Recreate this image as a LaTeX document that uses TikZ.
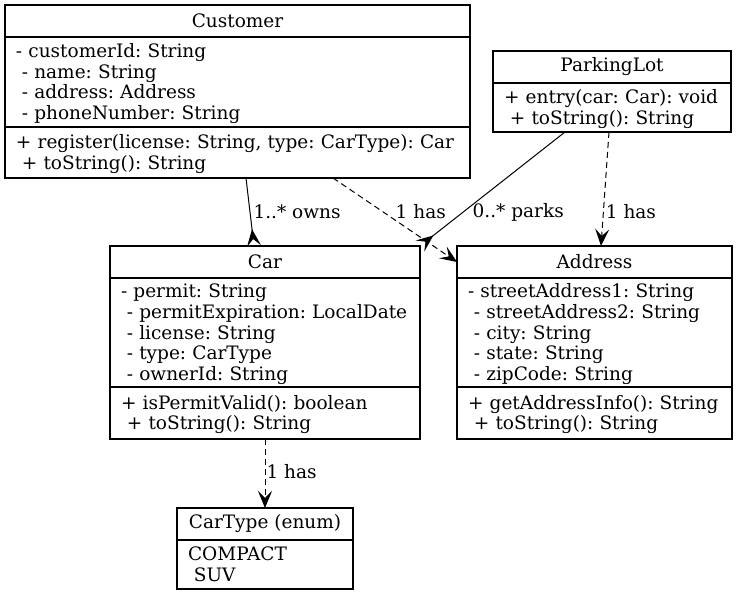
\documentclass[tikz,border=0pt]{standalone}
\usepackage{fontspec}
\setmainfont{DejaVu Serif}
\usetikzlibrary{arrows.meta,positioning}
\newcommand{\lsp}{\hspace*{0.318em}}
\newcommand{\fieldrows}[1]{\raisebox{-2.5pt}[\height][\depth]{\begin{tabular}{@{}l@{}}#1\end{tabular}}}

\begin{document}
\begin{tikzpicture}[x=1pt,y=-1pt,
    font=\fontsize{18.5}{20.7}\selectfont\frenchspacing,
    titlebox/.style={draw, line width=1.2pt, outer sep=0pt, inner sep=0pt, minimum height=32pt, minimum width=#1},
    partbox/.style={draw, line width=1.2pt, outer sep=0pt, inner xsep=11pt, inner ysep=0pt, align=left, text width=#1},
    lbl/.style={anchor=west, inner sep=0pt},
    crowline/.style={line width=1pt, -{Stealth[reversed, length=17pt, width=14pt, inset=7pt]}},
    hasline/.style={line width=1pt, dash pattern=on 6pt off 4pt, -{Stealth[length=17pt, width=14pt, inset=7pt]}}]
    \useasboundingbox (0,0) rectangle (737,596);
    %%Customer
    \node[titlebox=465pt] (custT) at (237.5,21) {Customer};
    \node[partbox=443pt, minimum height=90pt, below=0pt of custT] (custA)
        {\fieldrows{- customerId: String\\ \lsp- name: String\\ \lsp- address: Address\\ \lsp- phoneNumber: String}};
    \node[partbox=443pt, minimum height=51pt, below=0pt of custA] (custM)
        {\fieldrows{+ register(license: String, type: CarType): Car\\ \lsp+ toString(): String}};
    %%ParkingLot
    \node[titlebox=238pt] (parkT) at (612,67) {ParkingLot};
    \node[partbox=216pt, minimum height=49pt, below=0pt of parkT] (parkM)
        {\fieldrows{+ entry(car: Car): void\\ \lsp+ toString(): String}};
    %%Car
    \node[titlebox=310pt] (carT) at (265,262) {Car};
    \node[partbox=288pt, minimum height=109pt, below=0pt of carT] (carA)
        {\fieldrows{- permit: String\\ \lsp- permitExpiration: LocalDate\\ \lsp- license: String\\ \lsp- type: CarType\\ \lsp- ownerId: String}};
    \node[partbox=288pt, minimum height=52pt, below=0pt of carA] (carM)
        {\fieldrows{+ isPermitValid(): boolean\\ \lsp+ toString(): String}};
    %%Address
    \node[titlebox=275pt] (addrT) at (594.5,262) {Address};
    \node[partbox=253pt, minimum height=109pt, below=0pt of addrT] (addrA)
        {\fieldrows{- streetAddress1: String\\ \lsp- streetAddress2: String\\ \lsp- city: String\\ \lsp- state: String\\ \lsp- zipCode: String}};
    \node[partbox=253pt, minimum height=52pt, below=0pt of addrA] (addrM)
        {\fieldrows{+ getAddressInfo(): String\\ \lsp+ toString(): String}};
    %%CarType
    \node[titlebox=176pt] (typeT) at (265,524) {CarType (enum)};
    \node[partbox=154pt, minimum height=49pt, below=0pt of typeT] (typeV)
        {\fieldrows{COMPACT\\ \lsp SUV}};
    %%Relations
    \draw[crowline] ([xshift=241pt]custM.south west) -- node[lbl, pos=0.5, xshift=3pt]{1..* owns} ([xshift=144pt]carT.north west);
    \draw[hasline] ([xshift=328pt]custM.south west) -- node[lbl, pos=0.405, xshift=12pt]{1 has} (addrT.west);
    \draw[crowline] ([xshift=72pt]parkM.south west) -- node[lbl, pos=0.702, xshift=9pt]{0..* parks} (carT.north east);
    \draw[hasline] ([xshift=116pt]parkM.south west) -- node[lbl, pos=0.70, xshift=2pt]{1 has} ([xshift=144pt]addrT.north west);
    \draw[hasline] (carM.south) -- node[lbl, pos=0.478, xshift=1pt]{1 has} (typeT.north);
\end{tikzpicture}
\end{document}
